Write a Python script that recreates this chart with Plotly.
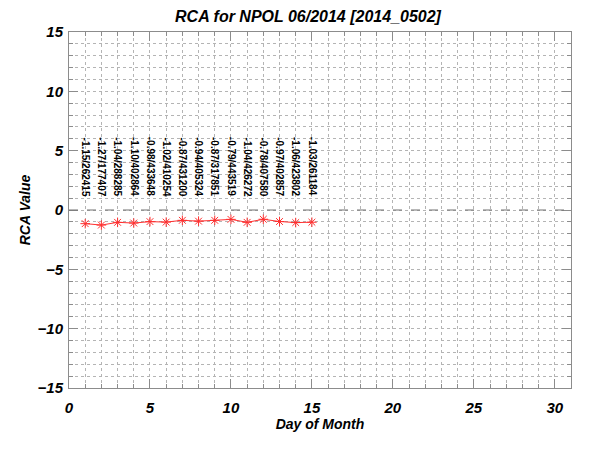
import plotly.graph_objects as go

# daily RCA values (June 2014, NPOL)
days = list(range(1, 16))
rca = [-1.15, -1.27, -1.04, -1.10, -0.98, -1.02, -0.87, -0.94,
       -0.87, -0.79, -1.04, -0.78, -0.97, -1.06, -1.03]
counts = [262415, 177407, 288285, 402864, 433648, 410254, 431200, 405324,
          317851, 443519, 426272, 407580, 402857, 423802, 261184]

FONT = "Liberation Sans, Arial, Helvetica, sans-serif"
GRID = "#b4b4b4"
AXIS = "#8c8c8c"

fig = go.Figure()

fig.add_trace(go.Scatter(
    x=days, y=rca, mode="lines+markers",
    line=dict(color="#ff3030", width=1),
    marker=dict(symbol="asterisk-open", size=8, color="#ff3030",
                line=dict(color="#ff3030", width=1)),
    showlegend=False,
))

# zero reference line
fig.add_shape(type="line", xref="x", yref="y", x0=0, x1=31, y0=0, y1=0,
              line=dict(color="#707070", width=1, dash="dash"))

# per-day text labels: value/count, rotated
for d, v, n in zip(days, rca, counts):
    fig.add_annotation(
        x=d, y=6.3, xref="x", yref="y",
        text=f"{v:.2f}/{n}", showarrow=False, textangle=90,
        xanchor="center", yanchor="top",
        font=dict(family=FONT, size=10, color="black", weight="bold"),
    )

axis_common = dict(
    showline=True, linecolor=AXIS, linewidth=1, mirror="ticks",
    ticks="inside", ticklen=9, tickcolor=AXIS, tickwidth=1,
    showgrid=True, gridcolor=GRID, griddash="dot", gridwidth=1,
    zeroline=False, automargin=False,
    tickfont=dict(family=FONT, size=15, color="black",
                  weight="bold", style="italic"),
    minor=dict(dtick=1, ticks="inside", ticklen=4, tickcolor=AXIS,
               showgrid=True, gridcolor=GRID, griddash="dot", gridwidth=1),
)

fig.update_xaxes(range=[0, 31], tick0=0, dtick=5, ticklabelstandoff=6,
                 title=dict(text="Day of Month", standoff=4,
                            font=dict(family=FONT, size=14, color="black",
                                      weight="bold", style="italic")),
                 **axis_common)
fig.update_yaxes(range=[-15, 15], tick0=0, dtick=5, ticklabelstandoff=2,
                 title=dict(text="RCA Value", standoff=3,
                            font=dict(family=FONT, size=14, color="black",
                                      weight="bold", style="italic")),
                 **axis_common)

fig.update_layout(
    width=600, height=450,
    margin=dict(l=61, r=37, t=24, b=70),
    paper_bgcolor="white", plot_bgcolor="white",
    title=dict(text="RCA for NPOL 06/2014 [2014_0502]", x=0.5, xanchor="center",
               y=0.982, yanchor="middle",
               font=dict(family=FONT, size=16, color="black",
                         weight="bold", style="italic")),
)

fig.write_html("out.html")
